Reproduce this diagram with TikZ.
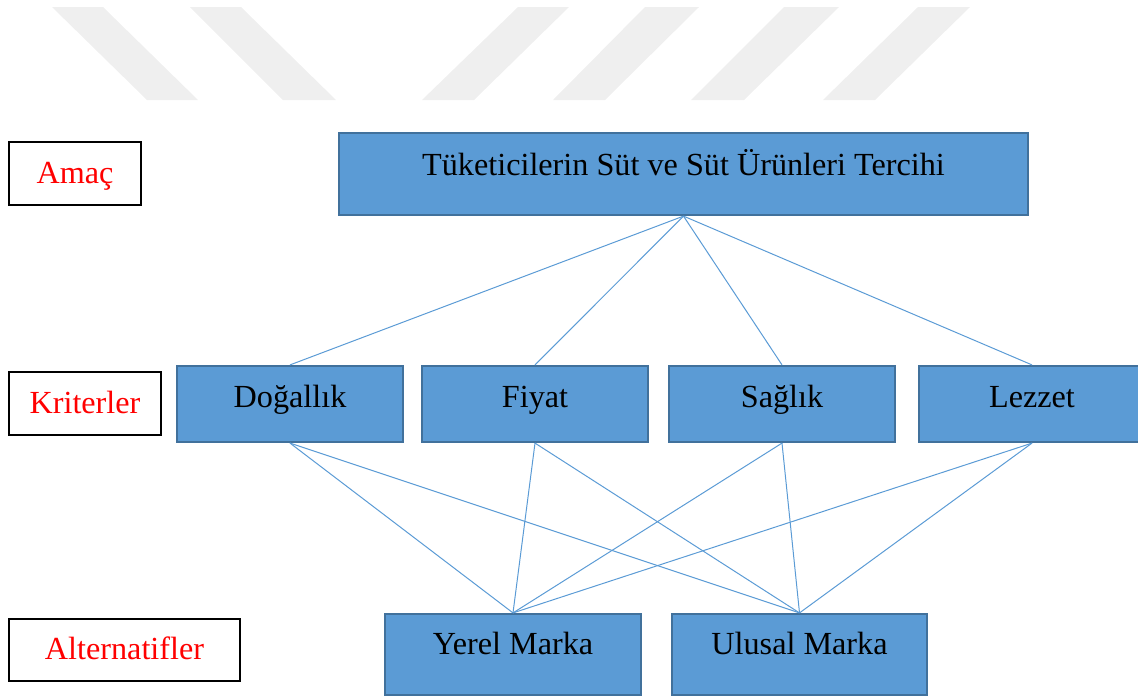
\documentclass[tikz,border=0pt]{standalone}
\usepackage{fontspec}
\setmainfont{Liberation Serif}
\definecolor{boxfill}{HTML}{5B9BD5}
\definecolor{boxedge}{HTML}{41719C}
\definecolor{wm}{HTML}{EFEFEF}
\begin{document}
\begin{tikzpicture}[x=1pt,y=-1pt,
  bluebox/.style={draw=boxedge, line width=2.2pt, fill=boxfill, inner sep=0pt},
  labelbox/.style={draw=black, line width=1.2pt, fill=white, inner sep=0pt},
  txt/.style={anchor=base, inner sep=0pt, font=\fontsize{32.2}{36}\selectfont},
  redtxt/.style={txt, text=red},
  link/.style={draw=boxfill, line width=1pt}]
\useasboundingbox (0,0) rectangle (1138,697);
\clip (0,0) rectangle (1138,697);
% watermark stripes
\fill[wm] (52,7) -- (103,7) -- (198,100) -- (147,100) -- cycle;
\fill[wm] (190,7) -- (241,7) -- (336,100) -- (283,100) -- cycle;
\fill[wm] (518,7) -- (569,7) -- (474,100) -- (422,100) -- cycle;
\fill[wm] (645,7) -- (699,7) -- (605,100) -- (553,100) -- cycle;
\fill[wm] (784,7) -- (839,7) -- (744,100) -- (691,100) -- cycle;
\fill[wm] (918,7) -- (970,7) -- (875,100) -- (823,100) -- cycle;
% label boxes
\node[labelbox, minimum width=132pt, minimum height=63pt] (amacbox) at (75,173.5) {};
\node[redtxt] (amac) at (75,183) {Amaç};
\node[labelbox, minimum width=152pt, minimum height=63pt] (kritbox) at (85,403.5) {};
\node[redtxt] (krit) at (85,413) {Kriterler};
\node[labelbox, minimum width=231pt, minimum height=62pt] (altbox) at (124.5,650) {};
\node[redtxt] (alt) at (124.5,659) {Alternatifler};
% goal
\node[bluebox, minimum width=689pt, minimum height=82pt] (goal) at (683.5,174) {};
\node[txt] (goaltxt) at (683.5,175) {Tüketicilerin Süt ve Süt Ürünleri Tercihi};
% criteria
\node[bluebox, minimum width=226pt, minimum height=76pt] (dog) at (290,404) {};
\node[txt] (dogtxt) at (290,407) {Doğallık};
\node[bluebox, minimum width=226pt, minimum height=76pt] (fiy) at (535,404) {};
\node[txt] (fiytxt) at (535,407) {Fiyat};
\node[bluebox, minimum width=226pt, minimum height=76pt] (sag) at (782,404) {};
\node[txt] (sagtxt) at (782,407) {Sağlık};
\node[bluebox, minimum width=226pt, minimum height=76pt] (lez) at (1032,404) {};
\node[txt] (leztxt) at (1032,407) {Lezzet};
% alternatives
\node[bluebox, minimum width=256pt, minimum height=81pt] (yer) at (513,654.5) {};
\node[txt] (yertxt) at (513,654) {Yerel Marka};
\node[bluebox, minimum width=255pt, minimum height=81pt] (ulu) at (799.5,654.5) {};
\node[txt] (ulutxt) at (799.5,654) {Ulusal Marka};
% links
\foreach \c in {dog,fiy,sag,lez}{
  \draw[link] (goal.south) -- (\c.north);
  \draw[link] (\c.south) -- (yer.north);
  \draw[link] (\c.south) -- (ulu.north);
}
\end{tikzpicture}
\end{document}
